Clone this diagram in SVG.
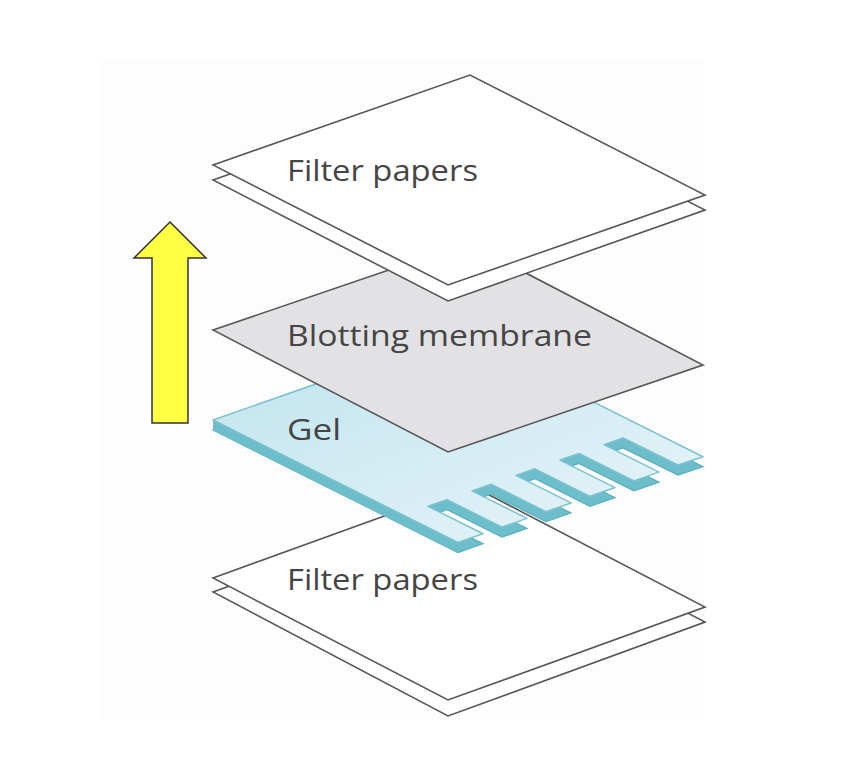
<svg xmlns="http://www.w3.org/2000/svg" width="846" height="762" viewBox="0 0 846 762">
<defs>
<style>
.paper{fill:#fff;stroke:#555;stroke-width:1.6;stroke-linejoin:miter}
.lbl{font-family:"Open Sans","Noto Sans",sans-serif;font-size:30px;fill:#454545}
</style>
<linearGradient id="gt" x1="0" y1="0" x2="1" y2="1">
<stop offset="0" stop-color="#bfe3ee"/><stop offset="1" stop-color="#e8f5f9"/>
</linearGradient>
<path id="gelshape" d="M213,420 L458,542.5 L483,533.75 L428,506.25 L447,499.6 L502,527.1 L527,518.35 L472,490.85 L491,484.2 L546,511.7 L571,502.95 L516,475.45 L535,468.8 L590,496.3 L615,487.55 L560,460.05 L579,453.4 L634,480.9 L659,472.15 L604,444.65 L623,438 L678,465 L703,456.75 L458,334.25 Z"/>
</defs>
<rect width="846" height="762" fill="#fff"/>
<rect x="100" y="60" width="605" height="660" fill="#fdfdfd"/>
<g id="bottom-papers">
<polygon class="paper" points="213,592 470,499 705,622 448,716"/>
<polygon class="paper" points="213,578 470,485 705,607 448,700"/>
<text class="lbl" x="287" y="590" textLength="191" lengthAdjust="spacingAndGlyphs">Filter papers</text>
</g>
<g id="gel">
<use href="#gelshape" transform="translate(0,10)" fill="#6dbecb" stroke="#5aaebc" stroke-width="1.2"/>
<path fill="#6dbecb" d="M213,420 L213,430 L458,552.5 L458,542.5 Z"/>
<use href="#gelshape" fill="url(#gt)" stroke="#7cc2cf" stroke-width="1.5" stroke-linejoin="round"/>
<text class="lbl" x="287" y="440" textLength="54" lengthAdjust="spacingAndGlyphs">Gel</text>
</g>
<g id="membrane">
<polygon points="213,330 468,243 703,365 448,452" fill="#e2e2e4" stroke="#555" stroke-width="1.6"/>
<text class="lbl" x="287" y="346" textLength="305" lengthAdjust="spacingAndGlyphs">Blotting membrane</text>
</g>
<g id="top-papers">
<polygon class="paper" points="213,180 470,90 705,210 448,301"/>
<polygon class="paper" points="213,165 470,75 705,195 448,285"/>
<text class="lbl" x="287" y="181" textLength="191" lengthAdjust="spacingAndGlyphs">Filter papers</text>
</g>
<g id="arrow">
<polygon points="170,222 206,258 188,258 188,423 152,423 152,258 134,258" fill="#ffff44" stroke="#333" stroke-width="1.5"/>
</g>
</svg>
